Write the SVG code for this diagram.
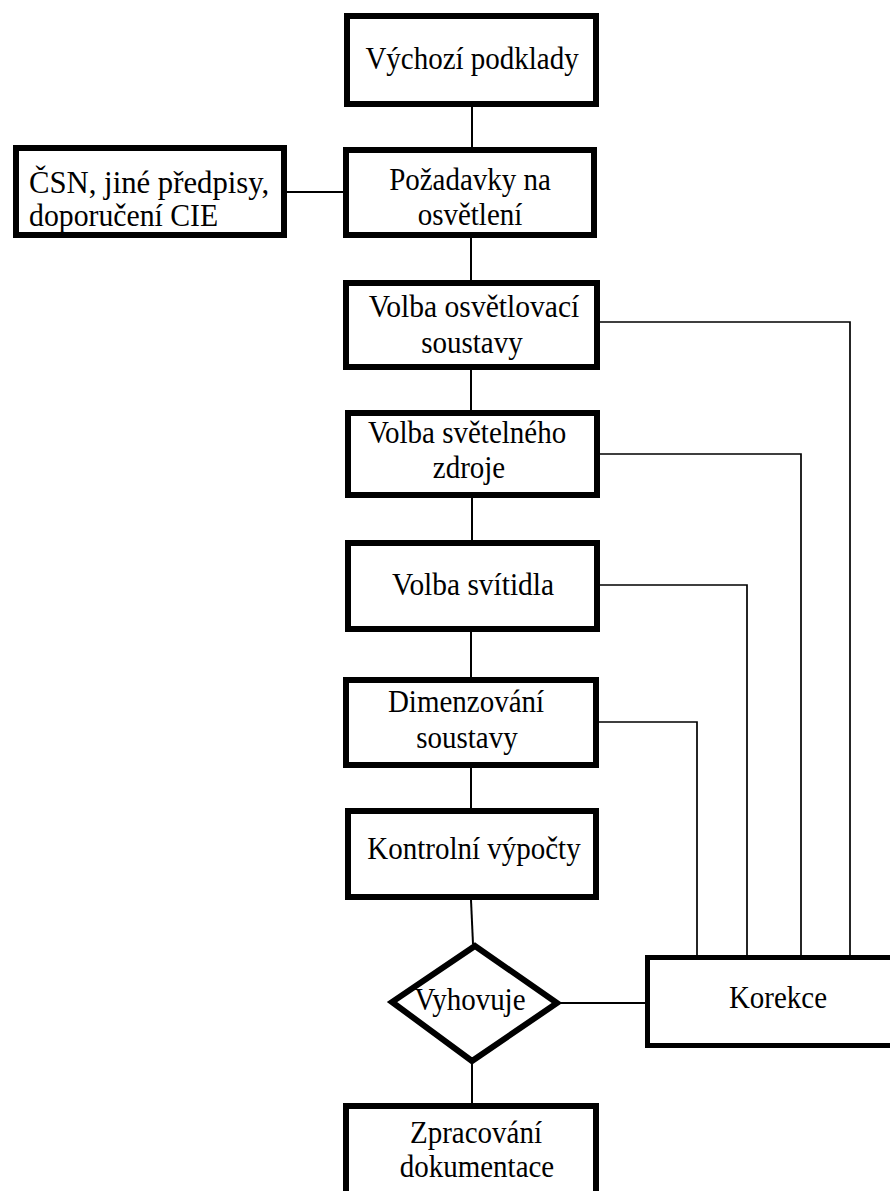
<svg xmlns="http://www.w3.org/2000/svg" width="890" height="1191" viewBox="0 0 890 1191">
  <style>
    .box { fill: #ffffff; stroke: #000000; stroke-width: 6; }
    .box-k { fill: #ffffff; stroke: #000000; stroke-width: 5; }
    /* slightly condensed serif lettering */
    .lbl { font-family: "Liberation Serif", "Times New Roman", serif; font-size: 32px; fill: #000000; text-anchor: middle; }
    .lbl-l { font-family: "Liberation Serif", "Times New Roman", serif; font-size: 32px; fill: #000000; text-anchor: start; }
    .wire { fill: none; stroke: #000000; stroke-width: 2; }
    .fb { fill: none; stroke: #000000; stroke-width: 1.7; }
  </style>
  <rect x="0" y="0" width="890" height="1191" fill="#ffffff"/>

  <!-- connectors -->
  <g id="connectors">
    <line class="wire" x1="472" y1="107" x2="472" y2="147"/>
    <line class="wire" x1="287" y1="192" x2="343" y2="192"/>
    <line class="wire" x1="471" y1="238" x2="471" y2="280"/>
    <line class="wire" x1="471" y1="370" x2="471" y2="410"/>
    <line class="wire" x1="472" y1="498" x2="472" y2="540"/>
    <line class="wire" x1="471" y1="632" x2="471" y2="677"/>
    <line class="wire" x1="471" y1="768" x2="471" y2="808"/>
    <line class="wire" x1="471" y1="900" x2="473" y2="944"/>
    <line class="wire" x1="472" y1="1063" x2="472" y2="1103"/>
    <line class="wire" x1="560" y1="1003" x2="645" y2="1003"/>
    <!-- feedback paths into Korekce -->
    <polyline class="fb" points="600,322 850,322 850,955"/>
    <polyline class="fb" points="600,454 801,454 801,955"/>
    <polyline class="fb" points="600,585 747,585 747,955"/>
    <polyline class="fb" points="599,722 697,722 697,955"/>
  </g>

  <g id="vychozi-podklady">
    <rect class="box" x="347" y="16" width="249" height="88"/>
    <text class="lbl" transform="translate(472,69) scale(0.906,1)">Výchozí podklady</text>
  </g>

  <g id="csn">
    <rect class="box" x="16" y="148" width="268" height="87"/>
    <text class="lbl-l" transform="translate(29,193) scale(0.96,1)">ČSN, jiné předpisy,</text>
    <text class="lbl-l" transform="translate(29,226) scale(0.93,1)">doporučení CIE</text>
  </g>

  <g id="pozadavky">
    <rect class="box" x="346" y="150" width="248" height="85"/>
    <text class="lbl" transform="translate(470,190) scale(0.906,1)">Požadavky na</text>
    <text class="lbl" transform="translate(470,225) scale(0.906,1)">osvětlení</text>
  </g>

  <g id="volba-soustavy">
    <rect class="box" x="346" y="283" width="251" height="84"/>
    <text class="lbl" transform="translate(474,317) scale(0.925,1)">Volba osvětlovací</text>
    <text class="lbl" transform="translate(472,353) scale(0.906,1)">soustavy</text>
  </g>

  <g id="volba-zdroje">
    <rect class="box" x="348" y="413" width="249" height="82"/>
    <text class="lbl" transform="translate(467,443) scale(0.906,1)">Volba světelného</text>
    <text class="lbl" transform="translate(469,478) scale(0.906,1)">zdroje</text>
  </g>

  <g id="volba-svitidla">
    <rect class="box" x="348" y="543" width="249" height="86"/>
    <text class="lbl" transform="translate(473,595) scale(0.92,1)">Volba svítidla</text>
  </g>

  <g id="dimenzovani">
    <rect class="box" x="346" y="680" width="250" height="85"/>
    <text class="lbl" transform="translate(466,712) scale(0.906,1)">Dimenzování</text>
    <text class="lbl" transform="translate(467,748) scale(0.906,1)">soustavy</text>
  </g>

  <g id="kontrolni-vypocty">
    <rect class="box" x="348" y="811" width="248" height="86"/>
    <text class="lbl" transform="translate(474,859) scale(0.906,1)">Kontrolní výpočty</text>
  </g>

  <g id="vyhovuje">
    <polygon class="box" points="475,946 557,1003 472,1061 392,1002"/>
    <text class="lbl" transform="translate(470,1010) scale(0.906,1)">Vyhovuje</text>
  </g>

  <g id="korekce">
    <rect class="box-k" x="647.5" y="957.5" width="270" height="88"/>
    <text class="lbl" transform="translate(778,1008) scale(0.906,1)">Korekce</text>
  </g>

  <g id="zpracovani">
    <rect class="box" x="346" y="1106" width="250" height="100"/>
    <text class="lbl" transform="translate(476,1143) scale(0.906,1)">Zpracování</text>
    <text class="lbl" transform="translate(477,1177) scale(0.906,1)">dokumentace</text>
  </g>
</svg>
